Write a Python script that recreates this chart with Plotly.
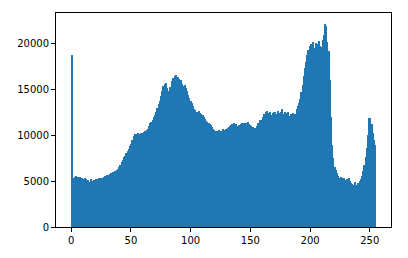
import plotly.graph_objects as go

# Histogram counts for pixel values 0..255 (256 bins over [0, 255])
counts = [
    18750, 4700, 5300, 5450, 5550, 5500, 5400, 5450, 5350, 5300,
    5250, 5300, 5200, 5150, 5100, 4950, 5200, 5050, 4950, 5100,
    5200, 5100, 5250, 5300, 5350, 5400, 5350, 5500, 5600, 5550,
    5700, 5650, 5800, 5900, 5850, 6000, 6100, 6050, 6200, 6350,
    6600, 6800, 7100, 7300, 7600, 7800, 8100, 8300, 8500, 8800,
    9100, 9500, 9900, 10200, 10100, 10000, 10250, 10100, 10300, 10150,
    10300, 10400, 10500, 10600, 10700, 11000, 11300, 11500, 11700, 12000,
    12200, 12600, 13000, 13400, 13800, 14300, 14800, 15400, 15600, 15700,
    15200, 14800, 14700, 15300, 15900, 16300, 16000, 16500, 16600, 16400,
    16100, 15800, 16000, 15600, 15400, 15500, 15200, 14800, 14400, 14100,
    13800, 13500, 13200, 12900, 12800, 12600, 12500, 12700, 12400, 12300,
    12200, 12000, 11800, 11600, 11500, 11300, 11200, 11100, 10900, 10700,
    10600, 10500, 10400, 10500, 10600, 10450, 10500, 10650, 10550, 10500,
    10700, 10800, 10900, 11000, 11100, 11200, 11300, 11100, 11200, 11050,
    11000, 11100, 11200, 11350, 11300, 11250, 11400, 11300, 11500, 11200,
    11100, 11000, 10900, 10800, 10850, 10800, 11000, 11300, 11700, 11600,
    11700, 12000, 12300, 12600, 12700, 12400, 12300, 12500, 12200, 12400,
    12600, 12500, 12300, 12700, 12400, 12200, 12500, 12900, 12300, 12600,
    12400, 12200, 12500, 12100, 12300, 12000, 12400, 12100, 12300, 12900,
    13200, 13500, 14000, 14700, 15500, 16500, 17300, 18000, 18800, 19300,
    19700, 20000, 19900, 20200, 19500, 20100, 19100, 20000, 20300, 19800,
    19600, 20400, 21000, 22200, 21900, 20200, 19200, 16000, 12000, 9000,
    7500, 6600, 6200, 5900, 5600, 5400, 5500, 5300, 5200, 5400,
    5100, 5200, 4900, 5300, 5000, 4800, 4700, 4600, 4900, 4500,
    4600, 4800, 5000, 5200, 5600, 6100, 6800, 7600, 8600, 10000,
    11900, 11900, 11200, 10300, 9500, 8900,
]

x_ticks = [0, 50, 100, 150, 200, 250]
y_ticks = [0, 5000, 10000, 15000, 20000]

n_bins = len(counts)
bin_w = 255 / n_bins
centers = [i * bin_w + bin_w / 2 for i in range(n_bins)]

fig = go.Figure(go.Bar(
    x=centers, y=counts, width=[bin_w * 1.02] * n_bins,
    marker=dict(color="#1f77b4", line=dict(width=0)),
))

axis_common = dict(
    showline=True, linecolor="black", linewidth=1, mirror=True,
    ticks="outside", ticklen=4, tickcolor="black", showgrid=False, zeroline=False,
    tickfont=dict(family="DejaVu Sans", size=10, color="black"),
)
fig.update_layout(
    width=408, height=258,
    margin=dict(l=56, r=17, t=13, b=27),
    paper_bgcolor="white", plot_bgcolor="white",
    bargap=0, showlegend=False,
    xaxis=dict(range=[-12.75, 267.75], tickvals=x_ticks,
               ticktext=[str(t) for t in x_ticks], **axis_common),
    yaxis=dict(range=[0, 23350], tickvals=y_ticks,
               ticktext=[str(t) for t in y_ticks], **axis_common),
)
fig.write_html("out.html")
